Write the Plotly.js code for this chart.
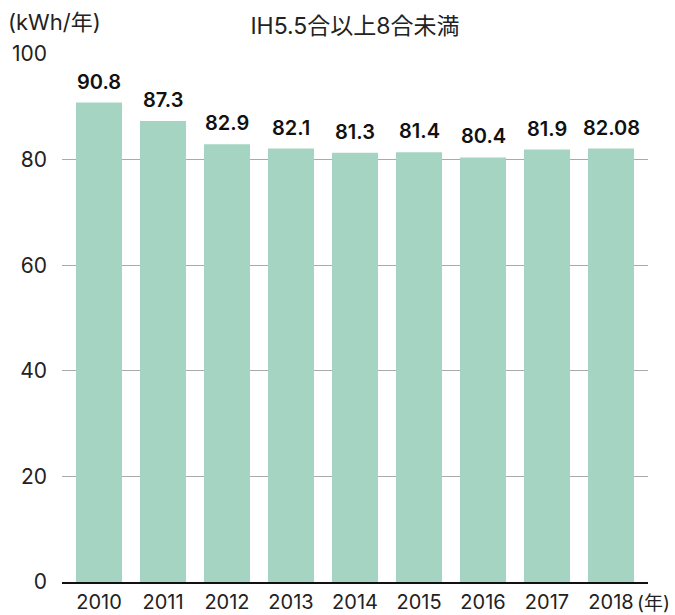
<!DOCTYPE html>
<html><head><meta charset="utf-8">
<script src="https://cdn.plot.ly/plotly-3.0.1.min.js"></script>
<style>body{margin:0;background:#fff}#chart{width:675px;height:615px}</style>
</head><body><div id="chart"></div>
<script>
const years = ["2010","2011","2012","2013","2014","2015","2016","2017","2018"];
const values = [90.8, 87.3, 82.9, 82.1, 81.3, 81.4, 80.4, 81.9, 82.08];
const valueLabels = ["90.8","87.3","82.9","82.1","81.3","81.4","80.4","81.9","82.08"];
const yTicks = [0, 20, 40, 60, 80, 100];

const FONT = 'Inter, "Noto Sans CJK JP", sans-serif';

const trace = {
  type: 'bar', x: years, y: values,
  marker: {color: '#a5d5c2'},
  hoverinfo: 'skip'
};

const annotations = years.map((y, i) => ({
  x: i, y: values[i], xref: 'x', yref: 'y',
  text: valueLabels[i], showarrow: false, yanchor: 'bottom', yshift: 7,
  font: {family: FONT, size: 20, color: '#111', weight: 600}
}));
annotations.push({
  xref: 'paper', yref: 'paper', x: 1, y: 0, xanchor: 'left', yanchor: 'middle',
  xshift: -13, yshift: -21, text: '(年)', showarrow: false,
  font: {family: FONT, size: 19, color: '#222'}
});
annotations.push({
  xref: 'paper', yref: 'paper', x: 0, y: 1, xanchor: 'left', yanchor: 'middle',
  xshift: -56, yshift: 32, text: '(kWh/年)', showarrow: false,
  font: {family: FONT, size: 22, color: '#222'}
});

const layout = {
  width: 675, height: 615,
  margin: {l: 62, r: 27, t: 54, b: 33},
  paper_bgcolor: '#fff', plot_bgcolor: '#fff',
  title: {text: 'IH5.5合以上8合未満', xref: 'paper', x: 0.5, xanchor: 'center',
          yref: 'container', y: 1 - 26/615, yanchor: 'middle',
          font: {family: FONT, size: 23, color: '#222'}},
  bargap: 0.28,
  showlegend: false,
  xaxis: {
    type: 'category', range: [-0.578, 8.578],
    showgrid: false, showline: true, linecolor: '#111', linewidth: 1.5,
    ticks: '', ticklabelstandoff: 1,
    tickfont: {family: FONT, size: 20, color: '#222'}
  },
  yaxis: {
    range: [0, 100], tickvals: yTicks, ticktext: yTicks.map(String),
    showgrid: true, gridcolor: '#aaaaaa', gridwidth: 1,
    zeroline: false, showline: false, ticks: '', ticklabelstandoff: 14,
    tickfont: {family: FONT, size: 21, color: '#222'}
  },
  annotations: annotations
};

Plotly.newPlot('chart', [trace], layout, {displayModeBar: false, staticPlot: true});
</script>
</body></html>
